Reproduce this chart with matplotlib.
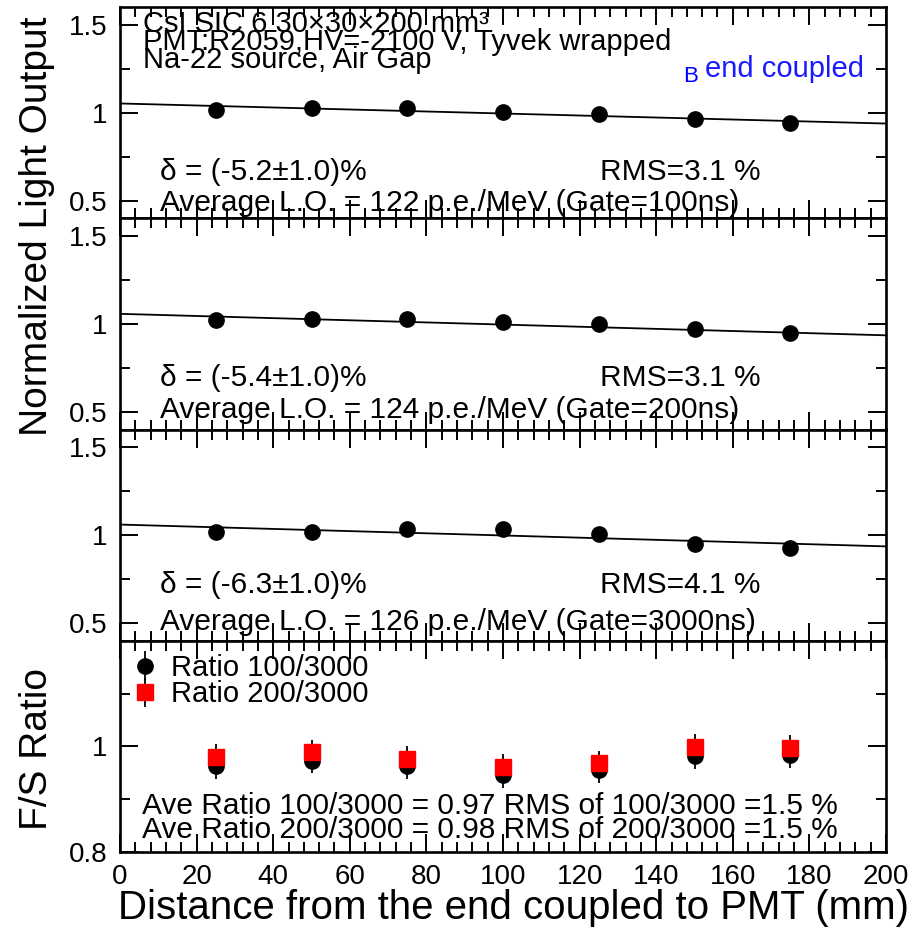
import matplotlib.pyplot as plt
from matplotlib.ticker import MultipleLocator
from matplotlib.patches import Rectangle

plt.rcParams['font.family'] = ['Liberation Sans', 'DejaVu Sans']

# distance from the coupled end (mm)
dist = [25, 50, 75, 100, 125, 150, 175]

# normalized light output for the three gates
lo_100 = [1.017, 1.029, 1.029, 1.006, 0.994, 0.966, 0.943]
lo_200 = [1.023, 1.028, 1.028, 1.010, 1.000, 0.970, 0.948]
lo_3000 = [1.019, 1.019, 1.032, 1.032, 1.006, 0.949, 0.928]

# linear fit, read at x=0 and x=200
fit_x = [0, 200]
fit_100 = [1.052, 0.938]
fit_200 = [1.057, 0.935]
fit_3000 = [1.060, 0.936]

delta = ['-5.2', '-5.4', '-6.3']
rms = ['3.1', '3.1', '4.1']
avg_lo = [122, 124, 126]
gates = [100, 200, 3000]

# F/S ratios
ratio_100 = [0.962, 0.973, 0.963, 0.945, 0.955, 0.982, 0.983]
ratio_200 = [0.980, 0.989, 0.977, 0.961, 0.968, 0.999, 0.997]
ratio_err = [0.024, 0.024, 0.024, 0.024, 0.024, 0.024, 0.024]

W, H = 919, 941


def px(x, y):
    # pixel position -> figure fraction
    return x / W, 1 - y / H


fig = plt.figure(figsize=(W / 100, H / 100), dpi=100)
gs = fig.add_gridspec(4, 1, left=120 / W, right=886 / W, top=1 - 7 / H,
                      bottom=1 - 852 / H, hspace=0)
axes = [fig.add_subplot(gs[i]) for i in range(4)]

for ax in axes:
    ax.set_xlim(0, 200)
    ax.xaxis.set_major_locator(MultipleLocator(20))
    ax.xaxis.set_minor_locator(MultipleLocator(4))
    ax.tick_params(which='both', direction='in', top=True, right=True,
                   labelsize=20, width=1.4, pad=9)
    ax.tick_params(which='major', length=13)
    ax.tick_params(which='minor', length=7)
    for s in ax.spines.values():
        s.set_linewidth(1.9)
    if ax is not axes[3]:
        ax.tick_params(labelbottom=False)

series = [lo_100, lo_200, lo_3000]
fits = [fit_100, fit_200, fit_3000]
for i in range(3):
    ax = axes[i]
    ax.set_ylim(0.4, 1.6)
    ax.set_yticks([0.5, 1, 1.5])
    ax.set_yticklabels(['0.5', '1', '1.5'])
    ax.yaxis.set_minor_locator(MultipleLocator(0.25))
    ax.plot(fit_x, fits[i], color='black', lw=1.3)
    ax.plot(dist, series[i], 'o', color='black', ms=11)

# panel notes
note_y = [(172, 203), (378, 410), (585, 622)]
for i in range(3):
    y1, y2 = note_y[i]
    fig.text(*px(160, y1), 'δ = (%s±1.0)%%' % delta[i], fontsize=21.5, va='center')
    fig.text(*px(600, y1), 'RMS=%s %%' % rms[i], fontsize=21.5, va='center')
    fig.text(*px(160, y2), 'Average L.O. = %d p.e./MeV (Gate=%dns)' % (avg_lo[i], gates[i]),
             fontsize=21.5, va='center')

# header
fig.text(*px(143, 32), 'CsI SIC 6 30×30×200 mm³', fontsize=21, va='baseline')
fig.text(*px(143, 50), 'PMT:R2059,HV=-2100 V, Tyvek wrapped', fontsize=21, va='baseline')
fig.text(*px(143, 68), 'Na-22 source, Air Gap', fontsize=21, va='baseline')

# overlay label
fig.patches.append(Rectangle(px(670, 92), 205 / W, 47 / H, transform=fig.transFigure,
                             facecolor='white', edgecolor='none', zorder=5))
fig.text(*px(683, 77), 'B', fontsize=16, color='blue', va='center', zorder=6)
fig.text(*px(705, 69), 'end coupled', fontsize=21, color='#1a1aff', va='center', zorder=6)

# F/S ratio panel
ax = axes[3]
ax.set_ylim(0.8, 1.2)
ax.set_yticks([0.8, 1])
ax.set_yticklabels(['0.8', '1'])
ax.yaxis.set_minor_locator(MultipleLocator(0.1))
ax.errorbar(dist, ratio_100, yerr=ratio_err, fmt='o', color='black', ms=11,
            elinewidth=1.3, capsize=0, label='Ratio 100/3000')
ax.errorbar(dist, ratio_200, yerr=ratio_err, fmt='s', mfc='red', mec='red', ecolor='black',
            ms=12, elinewidth=1.3, capsize=0, label='Ratio 200/3000')
ax.legend(loc='upper left', bbox_to_anchor=(0.0, 1.0), frameon=False, fontsize=21,
          handlelength=0.8, handletextpad=0.5, labelspacing=-0.05, borderpad=0.25,
          borderaxespad=0.2)

fig.text(*px(142, 806), 'Ave Ratio 100/3000 = 0.97 RMS of 100/3000 =1.5 %', fontsize=21.5, va='center')
fig.text(*px(142, 830), 'Ave Ratio 200/3000 = 0.98 RMS of 200/3000 =1.5 %', fontsize=21.5, va='center')

# axis titles
fig.text(*px(37, 226), 'Normalized Light Output', fontsize=28, rotation=90, ha='center', va='center')
fig.text(*px(37, 749), 'F/S Ratio', fontsize=28, rotation=90, ha='center', va='center')
fig.text(*px(513, 908), 'Distance from the end coupled to PMT (mm)', fontsize=29,
         ha='center', va='center')

fig.savefig('out.png', dpi=100)
